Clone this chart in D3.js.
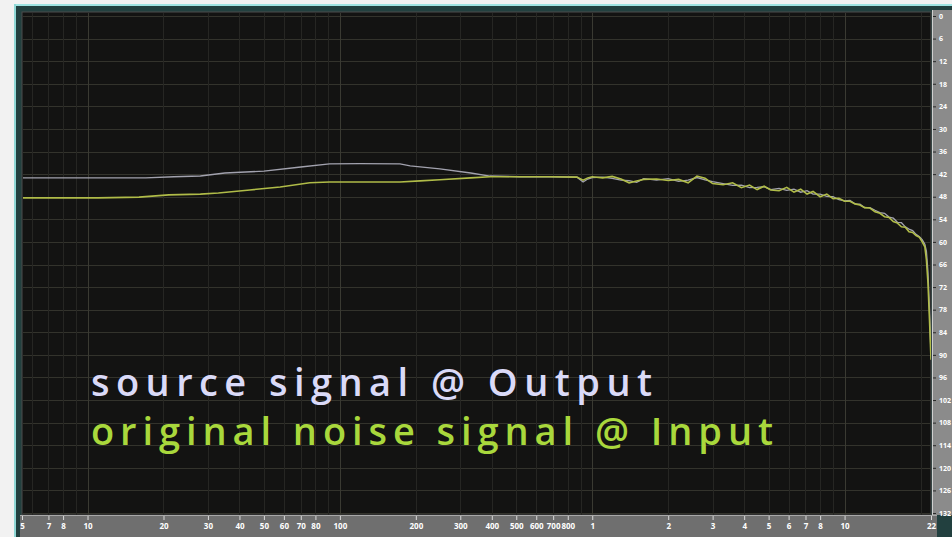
<!DOCTYPE html>
<html>
<head>
<meta charset="utf-8">
<script src="https://cdn.jsdelivr.net/npm/d3@7"></script>
<style>
  html, body { margin: 0; padding: 0; background: #f2f2f2; }
  svg { display: block; }
</style>
</head>
<body>
<svg id="chart" width="952" height="537"></svg>
<script>
// ---- data (Hz / dB) ----
const outLowFreq = [5.5, 11, 17, 22, 28, 35, 50, 70, 91, 120, 173, 190, 249, 330, 393, 517, 680, 870, 920, 960]
const outLowDb = [-43.0, -43.0, -43.0, -42.7, -42.5, -41.7, -41.2, -40.1, -39.3, -39.2, -39.3, -39.8, -40.6, -41.7, -42.5, -42.7, -42.7, -42.8, -44.1, -43.3]

const inLowFreq = [5.5, 8, 11, 16, 21, 28, 33, 44, 58, 76, 91, 144, 173, 208, 249, 330, 393, 517, 680, 870, 920, 960]
const inLowDb = [-48.3, -48.3, -48.3, -48.1, -47.5, -47.3, -47.0, -46.2, -45.4, -44.3, -44.1, -44.1, -44.1, -43.8, -43.5, -43.0, -42.7, -42.7, -42.7, -42.8, -43.6, -43.0]

const highFreq = [1000, 1100, 1200, 1300, 1400, 1500, 1600, 1800, 2000, 2200, 2400, 2600, 2800, 3000,
  3300, 3600, 3900, 4200, 4500, 4800, 5100, 5500, 5900, 6300, 6700, 7100, 7500, 8000,
  8500, 9000, 9500, 10000, 10500, 11000, 11500, 12000, 12600, 13200, 13800, 14400, 15000, 15600,
  16200, 16800, 17400, 18000, 18600, 19200, 19800, 20300, 20800, 21100, 21400, 21700, 22000]
const outHighDb = [-42.9, -42.8, -43.1, -43.6, -43.7, -44.2, -43.2, -43.6, -43.2, -43.9, -43.6, -42.9, -43.5, -44.0,
  -44.5, -45.0, -44.9, -45.6, -45.5, -45.3, -46.1, -45.8, -46.3, -46.0, -46.8, -46.4, -47.3, -47.3,
  -47.9, -48.0, -48.8, -49.1, -49.0, -49.9, -50.0, -50.9, -50.9, -51.6, -52.2, -52.4, -53.4, -53.7,
  -54.8, -54.9, -56.0, -56.6, -57.0, -58.0, -58.6, -59.4, -60.6, -62.5, -68.0, -78.0, -90.0]
const inHighDb = [-42.7, -43.0, -42.6, -43.3, -44.3, -43.8, -43.4, -43.3, -43.7, -43.4, -44.3, -42.5, -43.1, -44.5,
  -44.8, -44.3, -45.6, -44.9, -46.1, -45.2, -46.2, -46.4, -45.5, -46.8, -46.0, -47.3, -46.6, -48.0,
  -47.3, -48.5, -48.4, -49.2, -49.2, -49.9, -50.2, -50.9, -51.0, -52.0, -52.4, -53.3, -53.5, -54.6,
  -55.0, -56.0, -56.1, -57.3, -57.5, -58.3, -58.8, -60.0, -61.3, -64.8, -70.9, -80.7, -91.3]

// ---- axis ticks ----
const xTickValues = [5.5, 7, 8, 10, 20, 30, 40, 50, 60, 70, 80, 100, 200, 300, 400, 500, 600, 700, 800,
  1000, 2000, 3000, 4000, 5000, 6000, 7000, 8000, 10000, 22000]
const xTickLabels = ['5', '7', '8', '10', '20', '30', '40', '50', '60', '70', '80', '100', '200', '300', '400', '500', '600', '700', '800',
  '1', '2', '3', '4', '5', '6', '7', '8', '10', '22']
const xGridValues = [6, 7, 8, 9, 10, 20, 30, 40, 50, 60, 70, 80, 90, 100, 200, 300, 400, 500, 600, 700, 800, 900,
  1000, 2000, 3000, 4000, 5000, 6000, 7000, 8000, 9000, 10000, 20000]
const xDecades = [10, 100, 1000, 10000]
const yTickValues = [0, -6, -12, -18, -24, -30, -36, -42, -48, -54, -60, -66, -72, -78, -84, -90, -96, -102, -108, -114, -120, -126, -132]

const labels = [
  { text: 'source signal @ Output', color: '#dadaf8', y: 396, len: 561 },
  { text: 'original noise signal @ Input', color: '#a9d83c', y: 445, len: 682 },
]

const W = 952, H = 537
const plot = { left: 22, top: 12, right: 931, bottom: 515 }
const font = '"Open Sans","Noto Sans",sans-serif'

const svg = d3.select('#chart')

// ---- window frame ----
svg.append('rect').attr('width', W).attr('height', H).attr('fill', '#f2f2f2')
svg.append('rect').attr('x', 14).attr('y', 4).attr('width', W - 14).attr('height', H - 4).attr('fill', '#22403f')
svg.append('line').attr('x1', 14).attr('x2', W).attr('y1', 5).attr('y2', 5)
  .attr('stroke', '#9fe4e2').attr('stroke-width', 2)
svg.append('line').attr('x1', 15).attr('x2', 15).attr('y1', 4).attr('y2', H)
  .attr('stroke', '#8fd8d6').attr('stroke-width', 2)

// ---- scales ----
const x = d3.scaleLog().domain([5.5, 22000]).range([plot.left, plot.right])
const y = d3.scaleLinear().domain([0, -132]).range([16, 513])

// plot background
svg.append('rect')
  .attr('x', plot.left).attr('y', plot.top)
  .attr('width', plot.right - plot.left).attr('height', plot.bottom - plot.top)
  .attr('fill', '#131312').attr('stroke', '#4d4d4d')

svg.append('clipPath').attr('id', 'clip')
  .append('rect')
  .attr('x', plot.left + 1).attr('y', plot.top + 1)
  .attr('width', plot.right - plot.left - 1).attr('height', plot.bottom - plot.top - 1)

const inner = svg.append('g').attr('clip-path', 'url(#clip)')

// gridlines
inner.append('g').selectAll('line').data(yTickValues).join('line')
  .attr('x1', plot.left).attr('x2', plot.right)
  .attr('y1', d => Math.round(y(d)) + 0.5).attr('y2', d => Math.round(y(d)) + 0.5)
  .attr('stroke', '#33332c').attr('stroke-width', 1)

inner.append('g').selectAll('line').data(xGridValues).join('line')
  .attr('x1', d => Math.round(x(d)) + 0.5).attr('x2', d => Math.round(x(d)) + 0.5)
  .attr('y1', plot.top).attr('y2', plot.bottom)
  .attr('stroke', d => xDecades.includes(d) ? '#3a3a32' : '#262623').attr('stroke-width', 1)

// curves
const line = d3.line().x(d => x(d[0])).y(d => y(d[1]))
const outPts = outLowFreq.map((f, i) => [f, outLowDb[i]]).concat(highFreq.map((f, i) => [f, outHighDb[i]]))
const inPts = inLowFreq.map((f, i) => [f, inLowDb[i]]).concat(highFreq.map((f, i) => [f, inHighDb[i]]))

inner.append('path').datum(outPts).attr('d', line)
  .attr('fill', 'none').attr('stroke', '#a2a2ae').attr('stroke-width', 1.3)
inner.append('path').datum(inPts).attr('d', line)
  .attr('fill', 'none').attr('stroke', '#b0bc48').attr('stroke-width', 1.6)

// captions
svg.append('g').selectAll('text').data(labels).join('text')
  .attr('x', 91).attr('y', d => d.y)
  .attr('textLength', d => d.len).attr('lengthAdjust', 'spacing')
  .attr('fill', d => d.color)
  .attr('font-family', font).attr('font-size', '38px').attr('font-weight', 600)
  .text(d => d.text)

// ---- right scale strip ----
svg.append('rect').attr('x', 932).attr('y', 10).attr('width', W - 932).attr('height', plot.bottom - 10)
  .attr('fill', '#8b8b8b')
svg.append('line').attr('x1', 932.5).attr('x2', 932.5).attr('y1', 10).attr('y2', plot.bottom)
  .attr('stroke', '#cfcfcf')

svg.append('g')
  .attr('transform', 'translate(933,0)')
  .call(d3.axisRight(y).tickValues(yTickValues).tickFormat(d => Math.abs(d)).tickSize(3).tickPadding(3))
  .call(g => {
    g.select('.domain').remove()
    g.selectAll('.tick line').attr('stroke', '#2a2a2a')
    g.selectAll('.tick text')
      .attr('fill', '#ffffff').attr('font-size', '7px').attr('font-weight', 'bold')
      .attr('font-family', font)
  })

// ---- bottom scale strip ----
svg.append('rect').attr('x', 20).attr('y', plot.bottom).attr('width', 917).attr('height', H - plot.bottom)
  .attr('fill', '#6f6f6f')
svg.append('line').attr('x1', 20).attr('x2', 937).attr('y1', plot.bottom + 0.5).attr('y2', plot.bottom + 0.5)
  .attr('stroke', '#a8a8a8')

svg.append('g')
  .attr('transform', `translate(0,${plot.bottom + 1})`)
  .call(d3.axisBottom(x).tickValues(xTickValues).tickFormat((d, i) => xTickLabels[i]).tickSize(4).tickPadding(3))
  .call(g => {
    g.select('.domain').remove()
    g.selectAll('.tick line').attr('stroke', '#d8d8d8')
    g.selectAll('.tick text')
      .attr('fill', '#ffffff').attr('font-size', '8px').attr('font-weight', 'bold')
      .attr('font-family', font)
  })
</script>
</body>
</html>
